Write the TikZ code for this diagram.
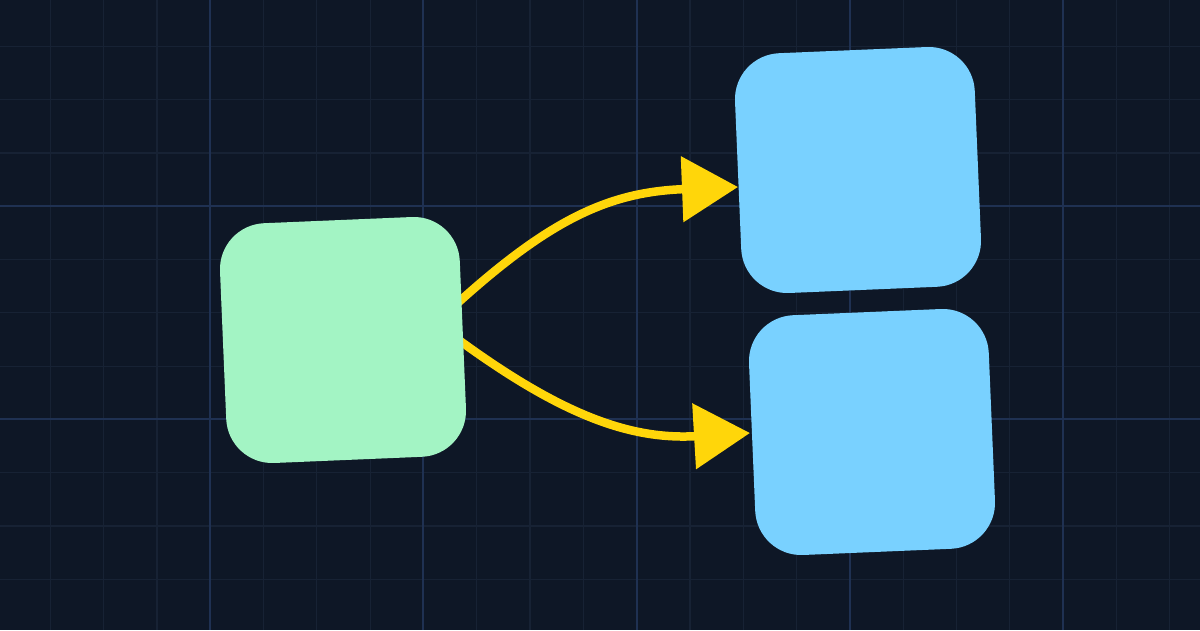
\documentclass[tikz,border=0pt]{standalone}
\usetikzlibrary{arrows.meta}
\definecolor{bg}{HTML}{0E1726}
\definecolor{minorg}{HTML}{172234}
\definecolor{majorg}{HTML}{1F3152}
\definecolor{greenbox}{HTML}{A3F4C4}
\definecolor{bluebox}{HTML}{79D1FF}
\definecolor{arrowy}{HTML}{FFD60A}
\tikzset{
  box/.style={draw=none, minimum width=240pt, minimum height=240pt, rounded corners=46pt, rotate=2.4},
  flow/.style={draw=arrowy, line width=8.5pt, -{Triangle[length=56pt,width=64pt]}}
}
\begin{document}
\begin{tikzpicture}[x=1pt,y=-1pt]
\fill[bg] (0,0) rectangle (1200,630);
\useasboundingbox (0,0) rectangle (1200,630);
\foreach \i in {-3,50.3,...,1200} \draw[minorg, line width=1.2pt] (\i,0) -- (\i,630);
\foreach \j in {-7,46.3,...,630} \draw[minorg, line width=1.2pt] (0,\j) -- (1200,\j);
\foreach \i in {210,423.3,636.6,849.9,1063.2} \draw[majorg, line width=2pt] (\i,0) -- (\i,630);
\foreach \j in {206,419.3} \draw[majorg, line width=2pt] (0,\j) -- (1200,\j);
\coordinate (s1) at (450,310);
\coordinate (t1) at (738,187);
\coordinate (s2) at (452,335);
\coordinate (t2) at (750,433);
\node[box, fill=bluebox] (b1) at (858,170) {};
\node[box, fill=bluebox] (b2) at (872,432) {};
\draw[flow] (s1) .. controls (550,218) and (610,192) .. (t1);
\draw[flow] (s2) .. controls (560,415) and (630,440) .. (t2);
\node[box, fill=greenbox] (g) at (343,340) {};
\end{tikzpicture}
\end{document}
